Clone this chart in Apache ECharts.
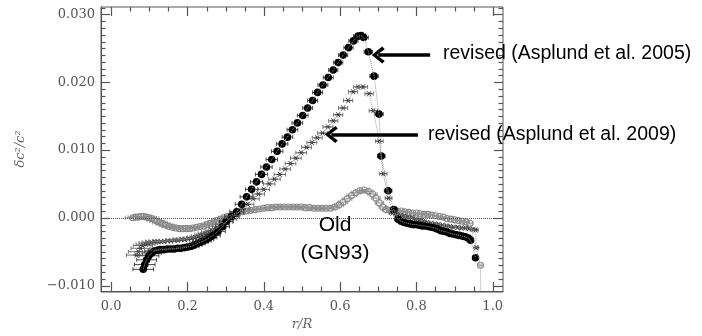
<!DOCTYPE html>
<html>
<head>
<meta charset="utf-8">
<script src="https://cdn.jsdelivr.net/npm/echarts@6/dist/echarts.min.js"></script>
<style>
html,body{margin:0;padding:0;background:#fff;}
#chart{width:702px;height:336px;}
</style>
</head>
<body>
<div id="chart"></div>
<script>
// ---- data: [r/R, δc²/c², horizontal error half-width] ----
const seriesAsplund2005 = [
[0.084,-0.0076,0.027],[0.088,-0.0069,0.027],[0.093,-0.0062,0.026],[0.099,-0.0056,0.026],
[0.106,-0.0052,0.025],[0.113,-0.0049,0.025],[0.121,-0.0048,0.024],[0.129,-0.0047,0.023],
[0.138,-0.0047,0.022],[0.147,-0.0046,0.022],[0.156,-0.0046,0.022],[0.165,-0.0046,0.021],
[0.174,-0.0045,0.021],[0.183,-0.0045,0.021],[0.192,-0.0044,0.020],[0.201,-0.0043,0.020],
[0.210,-0.0042,0.020],[0.218,-0.0040,0.020],[0.226,-0.0038,0.020],[0.234,-0.0036,0.020],
[0.242,-0.0034,0.020],[0.250,-0.0032,0.019],[0.258,-0.0029,0.019],[0.267,-0.0026,0.019],
[0.280,-0.0020,0.019],[0.292,-0.0013,0.018],[0.302,-0.0005,0.018],[0.315,0.0002,0.018],
[0.329,0.0009,0.018],[0.342,0.0020,0.017],[0.355,0.0031,0.017],[0.368,0.0042,0.016],
[0.381,0.0053,0.016],[0.394,0.0064,0.016],[0.407,0.0075,0.015],[0.421,0.0086,0.015],
[0.435,0.0098,0.015],[0.448,0.0109,0.015],[0.462,0.0119,0.014],[0.475,0.0130,0.014],
[0.488,0.0140,0.014],[0.502,0.0151,0.014],[0.515,0.0162,0.013],[0.528,0.0173,0.013],
[0.541,0.0185,0.013],[0.555,0.0196,0.013],[0.569,0.0207,0.013],[0.582,0.0218,0.012],
[0.595,0.0229,0.012],[0.608,0.0240,0.012],[0.622,0.0251,0.012],[0.635,0.0261,0.012],
[0.647,0.0268,0.012],[0.655,0.0269,0.012],[0.662,0.0266,0.012],[0.674,0.0245,0.011],
[0.689,0.0209,0.011],[0.702,0.0153,0.011],[0.708,0.0091,0.010],[0.726,0.0040,0.010],
[0.741,0.0012,0.009],[0.752,-0.0002,0.008],[0.760,-0.0005,0.008],[0.768,-0.0007,0.008],
[0.776,-0.0008,0.008],[0.784,-0.0009,0.008],[0.792,-0.0010,0.008],[0.800,-0.0010,0.008],
[0.808,-0.0011,0.008],[0.816,-0.0012,0.008],[0.824,-0.0012,0.008],[0.832,-0.0013,0.008],
[0.840,-0.0014,0.008],[0.848,-0.0015,0.008],[0.856,-0.0017,0.008],[0.864,-0.0019,0.008],
[0.872,-0.0020,0.008],[0.880,-0.0021,0.008],[0.888,-0.0023,0.008],[0.896,-0.0024,0.008],
[0.904,-0.0025,0.008],[0.912,-0.0026,0.008],[0.920,-0.0027,0.008],[0.928,-0.0028,0.008],
[0.936,-0.0030,0.008],[0.942,-0.0033,0.007],[0.955,-0.0059,0.006]
];
const seriesAsplund2009 = [
[0.066,-0.0055,0.026],[0.071,-0.0050,0.026],[0.077,-0.0045,0.025],[0.083,-0.0041,0.025],
[0.090,-0.0039,0.025],[0.097,-0.0037,0.024],[0.105,-0.0036,0.024],[0.113,-0.0035,0.023],
[0.121,-0.0035,0.023],[0.130,-0.0035,0.022],[0.139,-0.0035,0.022],[0.148,-0.0034,0.022],
[0.157,-0.0034,0.021],[0.166,-0.0033,0.021],[0.175,-0.0033,0.021],[0.184,-0.0032,0.020],
[0.193,-0.0032,0.020],[0.202,-0.0031,0.020],[0.211,-0.0030,0.020],[0.220,-0.0029,0.020],
[0.229,-0.0027,0.019],[0.238,-0.0025,0.019],[0.247,-0.0023,0.019],[0.256,-0.0021,0.019],
[0.265,-0.0019,0.019],[0.274,-0.0016,0.018],[0.283,-0.0013,0.018],[0.292,-0.0010,0.018],
[0.301,-0.0006,0.018],[0.310,-0.0002,0.018],[0.320,0.0002,0.017],[0.331,0.0007,0.017],
[0.345,0.0013,0.017],[0.358,0.0020,0.016],[0.372,0.0028,0.016],[0.386,0.0035,0.016],
[0.400,0.0042,0.015],[0.414,0.0050,0.015],[0.428,0.0057,0.015],[0.442,0.0064,0.015],
[0.456,0.0072,0.014],[0.470,0.0080,0.014],[0.484,0.0088,0.014],[0.498,0.0096,0.014],
[0.512,0.0104,0.013],[0.526,0.0111,0.013],[0.540,0.0118,0.013],[0.554,0.0125,0.013],
[0.568,0.0134,0.013],[0.582,0.0143,0.012],[0.595,0.0152,0.012],[0.608,0.0162,0.012],
[0.621,0.0173,0.012],[0.634,0.0186,0.012],[0.647,0.0193,0.012],[0.660,0.0193,0.012],
[0.676,0.0183,0.011],[0.687,0.0158,0.011],[0.703,0.0113,0.010],[0.713,0.0065,0.010],
[0.727,0.0029,0.009],[0.738,0.0007,0.009],[0.748,0.0005,0.008],[0.758,0.0003,0.008],
[0.768,0.0002,0.008],[0.778,0.0001,0.008],[0.788,0.0000,0.008],[0.798,-0.0002,0.008],
[0.808,-0.0003,0.008],[0.818,-0.0005,0.008],[0.828,-0.0007,0.008],[0.838,-0.0008,0.008],
[0.848,-0.0009,0.008],[0.858,-0.0010,0.008],[0.868,-0.0011,0.008],[0.878,-0.0012,0.008],
[0.888,-0.0013,0.008],[0.898,-0.0014,0.008],[0.908,-0.0014,0.008],[0.918,-0.0015,0.008],
[0.928,-0.0015,0.008],[0.938,-0.0016,0.008],[0.948,-0.0017,0.008],[0.955,-0.0018,0.007],
[0.957,-0.0044,0.006]
];
const seriesOldGN93 = [
[0.057,0.0000,0.020],[0.064,0.0001,0.020],[0.071,0.0001,0.020],[0.078,0.0002,0.020],
[0.085,0.0002,0.020],[0.092,0.0001,0.020],[0.099,0.0000,0.020],[0.106,-0.0001,0.019],
[0.113,-0.0003,0.019],[0.120,-0.0005,0.019],[0.128,-0.0007,0.019],[0.136,-0.0009,0.018],
[0.144,-0.0011,0.018],[0.152,-0.0013,0.018],[0.161,-0.0014,0.018],[0.170,-0.0015,0.017],
[0.179,-0.0016,0.017],[0.188,-0.0016,0.017],[0.197,-0.0016,0.017],[0.206,-0.0016,0.016],
[0.215,-0.0015,0.016],[0.224,-0.0014,0.016],[0.233,-0.0013,0.016],[0.242,-0.0012,0.016],
[0.251,-0.0010,0.015],[0.260,-0.0008,0.015],[0.269,-0.0006,0.015],[0.278,-0.0004,0.015],
[0.287,-0.0002,0.015],[0.296,0.0000,0.014],[0.305,0.0002,0.014],[0.315,0.0004,0.014],
[0.325,0.0006,0.014],[0.335,0.0008,0.013],[0.345,0.0009,0.013],[0.355,0.0010,0.013],
[0.366,0.0011,0.013],[0.377,0.0012,0.012],[0.388,0.0013,0.012],[0.399,0.0014,0.012],
[0.410,0.0015,0.012],[0.421,0.0015,0.012],[0.432,0.0016,0.012],[0.443,0.0016,0.012],
[0.454,0.0016,0.012],[0.465,0.0016,0.012],[0.476,0.0016,0.012],[0.487,0.0016,0.012],
[0.498,0.0016,0.012],[0.509,0.0015,0.012],[0.520,0.0015,0.012],[0.531,0.0014,0.012],
[0.542,0.0014,0.012],[0.553,0.0014,0.012],[0.564,0.0014,0.012],[0.575,0.0014,0.012],
[0.586,0.0016,0.012],[0.597,0.0019,0.012],[0.608,0.0023,0.012],[0.619,0.0028,0.012],
[0.630,0.0033,0.012],[0.641,0.0037,0.012],[0.652,0.0040,0.012],[0.663,0.0041,0.012],
[0.674,0.0039,0.012],[0.685,0.0035,0.012],[0.694,0.0029,0.011],[0.703,0.0022,0.011],
[0.712,0.0016,0.010],[0.721,0.0012,0.010],[0.730,0.0011,0.009],[0.740,0.0010,0.009],
[0.750,0.0010,0.008],[0.760,0.0010,0.008],[0.770,0.0009,0.008],[0.780,0.0008,0.008],
[0.790,0.0007,0.008],[0.800,0.0007,0.008],[0.810,0.0006,0.008],[0.820,0.0005,0.008],
[0.830,0.0005,0.008],[0.840,0.0004,0.008],[0.850,0.0003,0.008],[0.860,0.0002,0.008],
[0.870,0.0001,0.008],[0.880,-0.0001,0.008],[0.890,-0.0002,0.008],[0.900,-0.0003,0.008],
[0.910,-0.0004,0.008],[0.920,-0.0005,0.008],[0.930,-0.0006,0.008],[0.940,-0.0008,0.008],
[0.968,-0.0070,0.004],[0.969,-0.0125,0.004]
];
const xTickLabels = [0.0, 0.2, 0.4, 0.6, 0.8, 1.0];
const yTickLabels = [-0.010, 0.000, 0.010, 0.020, 0.030];
const annotations = [
  {text: 'revised (Asplund et al. 2005)', from: [0.836, 0.0240], to: [0.700, 0.0240]},
  {text: 'revised (Asplund et al. 2009)', from: [0.804, 0.0123], to: [0.577, 0.0123]}
];

// ---- layout ----
const X_MIN = -0.0267, X_MAX = 1.027, Y_MIN = -0.0108, Y_MAX = 0.0311;
const AX = '#555';
const serif = 'DejaVu Serif';
// frame tick marks: [value, isMajor]
const xFrameTicks = [], yFrameTicks = [];
for (let i = 0; i <= 20; i++) xFrameTicks.push([+(i * 0.05).toFixed(2), i % 4 === 0 ? 1 : 0]);
for (let i = -10; i <= 31; i++) yFrameTicks.push([+(i * 0.001).toFixed(3), i % 10 === 0 ? 1 : 0]);

function fmtY(v) {
  const s = Math.abs(v).toFixed(3);
  return v < -1e-9 ? '\u2212' + s : s;
}

const styles = {
  a05: {bar: '#333', kind: 'dot'},
  a09: {bar: '#666', kind: 'star'},
  old: {bar: '#888', kind: 'ring'}
};
function makeRender(key) {
  const st = styles[key];
  return function (params, api) {
    const r = api.value(0), v = api.value(1), e = api.value(2);
    if (v < Y_MIN || v > Y_MAX) return {type: 'group', children: []};
    const c = api.coord([r, v]);
    const l = api.coord([r - e, v]);
    const rt = api.coord([r + e, v]);
    const bs = {stroke: st.bar, lineWidth: 0.9};
    const ch = [
      {type: 'line', shape: {x1: l[0], y1: c[1], x2: rt[0], y2: c[1]}, style: bs},
      {type: 'line', shape: {x1: l[0], y1: c[1] - 2, x2: l[0], y2: c[1] + 2}, style: bs},
      {type: 'line', shape: {x1: rt[0], y1: c[1] - 2, x2: rt[0], y2: c[1] + 2}, style: bs}
    ];
    if (st.kind === 'dot') {
      ch.push({type: 'circle', shape: {cx: c[0], cy: c[1], r: 3.8}, style: {fill: '#000'}});
    } else if (st.kind === 'star') {
      const s = 3.2;
      const ss = {stroke: '#444', lineWidth: 1};
      ch.push({type: 'line', shape: {x1: c[0] - s, y1: c[1], x2: c[0] + s, y2: c[1]}, style: ss});
      ch.push({type: 'line', shape: {x1: c[0] - s * 0.6, y1: c[1] - s * 0.8, x2: c[0] + s * 0.6, y2: c[1] + s * 0.8}, style: ss});
      ch.push({type: 'line', shape: {x1: c[0] - s * 0.6, y1: c[1] + s * 0.8, x2: c[0] + s * 0.6, y2: c[1] - s * 0.8}, style: ss});
      ch.push({type: 'circle', shape: {cx: c[0], cy: c[1], r: 1.3}, style: {fill: '#333'}});
    } else {
      ch.push({type: 'circle', shape: {cx: c[0], cy: c[1], r: 3}, style: {fill: 'none', stroke: '#888', lineWidth: 1.1}});
    }
    return {type: 'group', children: ch};
  };
}
function lineOf(arr) {
  return {
    type: 'line', data: arr.map(d => [d[0], d[1]]), showSymbol: false, symbol: 'none',
    lineStyle: {color: '#999', width: 1, type: 'dotted'}, silent: true, clip: true
  };
}
function customOf(arr, key) {
  return {type: 'custom', data: arr, renderItem: makeRender(key), silent: true, encode: {x: 0, y: 1}, clip: true};
}
function renderXTicks(params, api) {
  const v = api.value(0), len = api.value(1) ? 9 : 4.5;
  const b = api.coord([v, Y_MIN]), t = api.coord([v, Y_MAX]);
  const x = Math.round(b[0]) + 0.5;
  const ts = {stroke: AX, lineWidth: 1.2};
  return {type: 'group', children: [
    {type: 'line', shape: {x1: x, y1: b[1], x2: x, y2: b[1] - len}, style: ts},
    {type: 'line', shape: {x1: x, y1: t[1], x2: x, y2: t[1] + len}, style: ts}
  ]};
}
function renderYTicks(params, api) {
  const v = api.value(0), len = api.value(1) ? 9 : 4.5;
  const l = api.coord([X_MIN, v]), r = api.coord([X_MAX, v]);
  const y = Math.round(l[1]) + 0.5;
  const ts = {stroke: AX, lineWidth: 1.2};
  return {type: 'group', children: [
    {type: 'line', shape: {x1: l[0], y1: y, x2: l[0] + len, y2: y}, style: ts},
    {type: 'line', shape: {x1: r[0], y1: y, x2: r[0] - len, y2: y}, style: ts}
  ]};
}

const chevron = 'path://M10,0 L20,12.5 L17,15.5 L10,6 L3,15.5 L0,12.5 Z';

const chart = echarts.init(document.getElementById('chart'));
const option = {
  animation: false,
  grid: {left: 101, right: 199, top: 7, bottom: 44},
  xAxis: {
    type: 'value', min: X_MIN, max: X_MAX,
    axisLine: {show: true, onZero: false, lineStyle: {color: AX, width: 1}},
    axisTick: {show: false},
    axisLabel: {show: true, customValues: xTickLabels, margin: 9, color: '#555', fontFamily: serif, fontSize: 13,
      formatter: v => v.toFixed(1)},
    splitLine: {show: false},
    name: 'r/R', nameLocation: 'middle', nameGap: 27,
    nameTextStyle: {fontFamily: serif, fontStyle: 'italic', fontSize: 13, color: '#666'}
  },
  yAxis: {
    type: 'value', min: Y_MIN, max: Y_MAX,
    axisLine: {show: true, onZero: false, lineStyle: {color: AX, width: 1}},
    axisTick: {show: false},
    axisLabel: {show: true, customValues: yTickLabels, margin: 6, color: '#555', fontFamily: serif, fontSize: 13,
      formatter: fmtY},
    splitLine: {show: false},
    name: '\u03b4c\u00b2/c\u00b2', nameLocation: 'middle', nameGap: 74, nameRotate: 90,
    nameTextStyle: {fontFamily: serif, fontStyle: 'italic', fontSize: 13, color: '#666'}
  },
  series: [
    Object.assign(lineOf(seriesOldGN93), {
      markLine: {
        silent: true, symbol: ['none', 'none'], label: {show: false},
        lineStyle: {color: '#555', width: 1, type: 'dotted'},
        data: [{yAxis: 0}]
      }
    }),
    lineOf(seriesAsplund2009),
    lineOf(seriesAsplund2005),
    customOf(seriesOldGN93, 'old'),
    customOf(seriesAsplund2009, 'a09'),
    customOf(seriesAsplund2005, 'a05'),
    {
      type: 'line', data: [], silent: true,
      markLine: {
        silent: true, symbol: ['none', chevron], symbolSize: [17, 13],
        label: {show: false},
        lineStyle: {color: '#000', width: 3.5, type: 'solid', opacity: 1},
        data: annotations.map(a => [{coord: a.from}, {coord: a.to}])
      }
    },
    {type: 'custom', data: xFrameTicks, renderItem: renderXTicks, clip: false},
    {type: 'custom', data: yFrameTicks, renderItem: renderYTicks, clip: false},
    {
      type: 'custom', data: [[0.5, 0.01]], clip: false, silent: true,
      renderItem: () => ({type: 'group', children: [
        {type: 'rect', shape: {x: 101, y: 7, width: 402, height: 285}, style: {fill: 'none', stroke: AX, lineWidth: 1}}
      ]})
    }
  ],
  graphic: [
    {type: 'text', left: 443, top: 44, z: 10, style: {text: annotations[0].text, font: '19.5px "Liberation Sans", Arial, sans-serif', fill: '#000'}},
    {type: 'text', left: 428, top: 125, z: 10, style: {text: annotations[1].text, font: '19.5px "Liberation Sans", Arial, sans-serif', fill: '#000'}},
    {type: 'text', x: 335, y: 225, z: 10, style: {text: 'Old', font: '21px "Liberation Sans", Arial, sans-serif', fill: '#000', align: 'center', verticalAlign: 'middle'}},
    {type: 'text', x: 335, y: 253, z: 10, style: {text: '(GN93)', font: '21px "Liberation Sans", Arial, sans-serif', fill: '#000', align: 'center', verticalAlign: 'middle'}}
  ]
};
chart.setOption(option);
</script>
</body>
</html>
